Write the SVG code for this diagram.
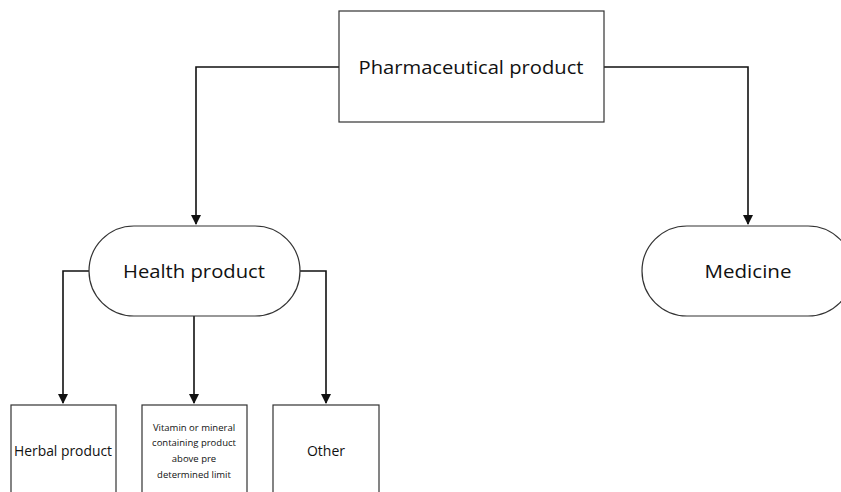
<svg xmlns="http://www.w3.org/2000/svg" width="841" height="492" viewBox="0 0 841 492">
<defs>
<marker id="arr" markerWidth="10" markerHeight="10" refX="9" refY="5" orient="auto" markerUnits="userSpaceOnUse">
<path d="M0,0 L10,5 L0,10 z" fill="#111"/>
</marker>
<style>
.box{fill:#fff;stroke:#333;stroke-width:1.2}
.conn{fill:none;stroke:#111;stroke-width:1.6}
text{font-family:"Open Sans","Liberation Sans",sans-serif;fill:#111;text-anchor:middle;dominant-baseline:central}
.big{font-size:19px}
.mid{font-size:14px}
.sm{font-size:9.5px}
</style>
</defs>
<rect width="841" height="492" fill="#fff"/>
<g id="connectors">
<path class="conn" d="M339,67 H196 V224" marker-end="url(#arr)"/>
<path class="conn" d="M604,67 H748 V224" marker-end="url(#arr)"/>
<path class="conn" d="M89,271 H63 V403" marker-end="url(#arr)"/>
<path class="conn" d="M194,316 V403" marker-end="url(#arr)"/>
<path class="conn" d="M300,271 H326 V403" marker-end="url(#arr)"/>
</g>
<g id="pharmaceutical">
<rect class="box" x="339" y="11" width="265" height="111"/>
<text class="big" x="471" y="67" textLength="225" lengthAdjust="spacingAndGlyphs">Pharmaceutical product</text>
</g>
<g id="health">
<rect class="box" x="89" y="226" width="211" height="90" rx="45" ry="45"/>
<text class="big" x="194" y="271" textLength="142" lengthAdjust="spacingAndGlyphs">Health product</text>
</g>
<g id="medicine">
<rect class="box" x="642" y="226" width="211" height="90" rx="45" ry="45"/>
<text class="big" x="748" y="271" textLength="87" lengthAdjust="spacingAndGlyphs">Medicine</text>
</g>
<g id="herbal">
<rect class="box" x="11" y="405" width="105" height="100"/>
<text class="mid" x="63" y="450" textLength="98" lengthAdjust="spacingAndGlyphs">Herbal product</text>
</g>
<g id="vitamin">
<rect class="box" x="142" y="405" width="105" height="100"/>
<text class="sm" x="194" y="427">Vitamin or mineral</text>
<text class="sm" x="194" y="442">containing product</text>
<text class="sm" x="194" y="458">above pre</text>
<text class="sm" x="194" y="474">determined limit</text>
</g>
<g id="other">
<rect class="box" x="273" y="405" width="106" height="100"/>
<text class="mid" x="326" y="450">Other</text>
</g>
</svg>
